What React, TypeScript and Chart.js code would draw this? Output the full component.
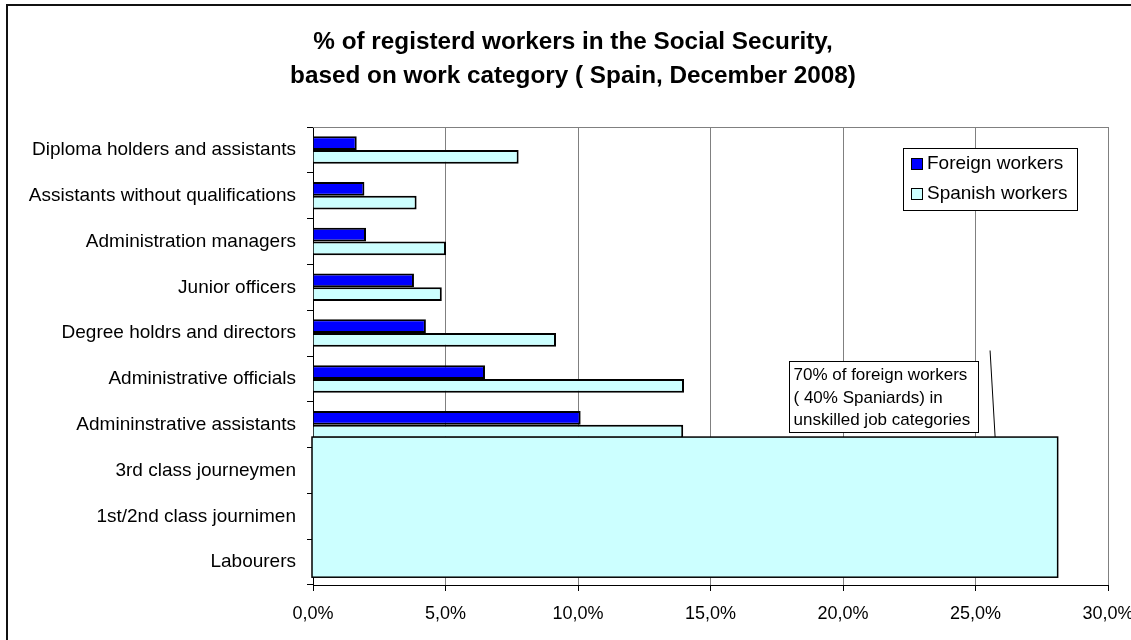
import React, { useEffect, useRef } from 'react';
import { Chart, registerables } from 'chart.js';

Chart.register(...registerables);

const categories = [
  'Diploma holders and assistants',
  'Assistants without qualifications',
  'Administration managers',
  'Junior officers',
  'Degree holdrs and directors',
  'Administrative officials',
  'Admininstrative assistants',
  '3rd class journeymen',
  '1st/2nd class journimen',
  'Labourers',
];

const foreignWorkers = [1.65, 1.94, 2.0, 3.81, 4.26, 6.49, 10.1, 18.5, 23.5, 27.75];
const spanishWorkers = [7.76, 3.91, 5.02, 4.86, 9.17, 14.0, 13.97, 12.5, 17.0, 11.8];

const seriesLabels = ['Foreign workers', 'Spanish workers'];
const seriesColors = ['#0000FF', '#CCFFFF'];

const xTickValues = [0, 5, 10, 15, 20, 25, 30];

const titleLines = [
  '% of registerd workers in the Social Security,',
  'based on work category ( Spain, December 2008)',
];

const calloutLines = ['70% of foreign workers', '( 40% Spaniards) in', 'unskilled job categories'];

// annotation geometry in data units (x = %, y = category index)
const coverBox = { xFrom: 0, xTo: 28.1, yFrom: 6.27, yTo: 9.33 };
const calloutBox = { xFrom: 17.96, xTo: 25.13, yFrom: 4.6, yTo: 6.18 };
const calloutPointer = { x1: 25.55, y1: 4.38, x2: 25.74, y2: 6.27 };

const FONT = '"Liberation Sans", Arial, sans-serif';

const decorPlugin = {
  id: 'decor',
  beforeDraw(chart: any) {
    const { ctx, width, height } = chart;
    ctx.save();
    ctx.fillStyle = '#ffffff';
    ctx.fillRect(0, 0, width, height);
    ctx.strokeStyle = '#111111';
    ctx.lineWidth = 2;
    ctx.strokeRect(7, 5, 1132, 700);
    ctx.fillStyle = '#000000';
    ctx.font = `bold 24.3px ${FONT}`;
    ctx.textAlign = 'center';
    ctx.textBaseline = 'middle';
    ctx.fillText(titleLines[0], 573, 42);
    ctx.fillText(titleLines[1], 573, 76);
    ctx.restore();
  },
  beforeDatasetsDraw(chart: any) {
    const { ctx, chartArea: a } = chart;
    ctx.save();
    ctx.strokeStyle = '#808080';
    ctx.lineWidth = 1;
    ctx.beginPath();
    ctx.moveTo(a.left, a.top + 0.5);
    ctx.lineTo(a.right, a.top + 0.5);
    ctx.stroke();
    ctx.restore();
  },
  afterDatasetsDraw(chart: any) {
    const { ctx } = chart;
    const xs = chart.scales.x;
    const ys = chart.scales.y;
    const px = (v: number) => xs.getPixelForValue(v);
    const py = (i: number) => ys.getPixelForDecimal((i + 0.5) / categories.length);
    ctx.save();

    // big cover box
    const bx = px(coverBox.xFrom) - 1;
    const by = py(coverBox.yFrom);
    const bw = px(coverBox.xTo) - bx;
    const bh = py(coverBox.yTo) - by;
    ctx.fillStyle = '#CCFFFF';
    ctx.fillRect(bx, by, bw, bh);
    ctx.strokeStyle = '#000000';
    ctx.lineWidth = 1.5;
    ctx.strokeRect(bx, by, bw, bh);

    // callout pointer
    ctx.lineWidth = 1;
    ctx.beginPath();
    ctx.moveTo(px(calloutPointer.x1), py(calloutPointer.y1));
    ctx.lineTo(px(calloutPointer.x2), py(calloutPointer.y2));
    ctx.stroke();

    // callout box
    const cx = Math.round(px(calloutBox.xFrom)) + 0.5;
    const cy = Math.round(py(calloutBox.yFrom)) + 0.5;
    const cw = Math.round(px(calloutBox.xTo) - cx);
    const ch = Math.round(py(calloutBox.yTo) - cy);
    ctx.fillStyle = '#ffffff';
    ctx.fillRect(cx, cy, cw, ch);
    ctx.strokeRect(cx, cy, cw, ch);
    ctx.fillStyle = '#000000';
    ctx.font = `17px ${FONT}`;
    ctx.textAlign = 'left';
    ctx.textBaseline = 'middle';
    calloutLines.forEach((t, i) => ctx.fillText(t, cx + 4, cy + 14 + i * 22.5));

    // legend
    const lx = 903.5, ly = 148.5, lw = 174, lh = 62;
    ctx.fillStyle = '#ffffff';
    ctx.fillRect(lx, ly, lw, lh);
    ctx.strokeStyle = '#000000';
    ctx.lineWidth = 1;
    ctx.strokeRect(lx, ly, lw, lh);
    ctx.font = `19px ${FONT}`;
    seriesLabels.forEach((lab, i) => {
      const yc = 163 + i * 30;
      ctx.fillStyle = seriesColors[i];
      ctx.fillRect(911, yc - 5, 11, 11);
      ctx.strokeRect(911.5, yc - 5 + 0.5, 11, 11);
      ctx.fillStyle = '#000000';
      ctx.fillText(lab, 927, yc + 1);
    });
    ctx.restore();
  },
};

export default function App() {
  const ref = useRef<HTMLCanvasElement>(null);
  useEffect(() => {
    const chart = new Chart(ref.current as HTMLCanvasElement, {
      type: 'bar',
      data: {
        labels: categories,
        datasets: [
          {
            label: seriesLabels[0],
            data: foreignWorkers,
            backgroundColor: seriesColors[0],
            borderColor: '#000000',
            borderWidth: 2,
          },
          {
            label: seriesLabels[1],
            data: spanishWorkers,
            backgroundColor: seriesColors[1],
            borderColor: '#000000',
            borderWidth: 2,
          },
        ],
      },
      options: {
        indexAxis: 'y',
        responsive: false,
        animation: false,
        devicePixelRatio: 1,
        layout: { padding: { top: 127, right: 23, left: 0, bottom: 0 } },
        datasets: { bar: { categoryPercentage: 0.6, barPercentage: 1.0 } },
        plugins: {
          legend: { display: false },
          title: { display: false },
          tooltip: { enabled: false },
        },
        scales: {
          x: {
            type: 'linear',
            min: 0,
            max: 30,
            afterBuildTicks: (scale: any) => {
              scale.ticks = xTickValues.map((v) => ({ value: v }));
            },
            afterFit: (scale: any) => {
              scale.height = 55;
              scale.paddingLeft = 0;
              scale.paddingRight = 0;
            },
            ticks: {
              color: '#000000',
              font: { family: FONT, size: 18 },
              padding: 12,
              maxRotation: 0,
              callback: (v: any) => `${Number(v).toFixed(1).replace('.', ',')}%`,
            },
            grid: { color: '#808080', lineWidth: 1, tickColor: '#000000', tickLength: 6 },
            border: { color: '#000000', width: 1 },
          },
          y: {
            type: 'category',
            afterFit: (scale: any) => {
              scale.width = 313;
              scale.paddingTop = 0;
              scale.paddingBottom = 0;
            },
            ticks: {
              color: '#000000',
              font: { family: FONT, size: 19 },
              padding: 11,
            },
            grid: { drawOnChartArea: false, color: '#000000', tickLength: 6 },
            border: { color: '#000000', width: 1 },
          },
        },
      },
      plugins: [decorPlugin],
    } as any);
    return () => chart.destroy();
  }, []);
  return (
    <div style={{ position: 'fixed', left: 0, top: 0, width: 1131, height: 640, background: '#fff' }}>
      <canvas ref={ref} width={1131} height={640} style={{ display: 'block', width: 1131, height: 640 }} />
    </div>
  );
}
